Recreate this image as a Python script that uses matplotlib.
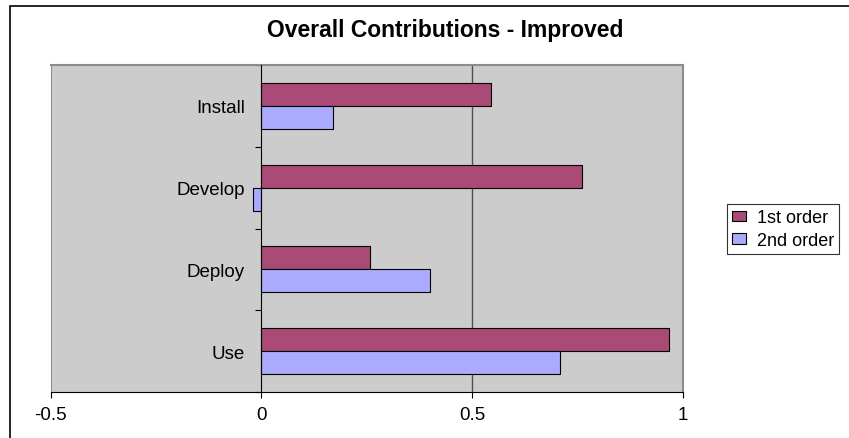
import numpy as np
import matplotlib
matplotlib.use("Agg")
import matplotlib.pyplot as plt
from matplotlib.patches import Rectangle

plt.rcParams["font.family"] = ["Liberation Sans", "DejaVu Sans"]

categories = ["Install", "Develop", "Deploy", "Use"]
first_order = [0.546, 0.76, 0.259, 0.968]
second_order = [0.170, -0.019, 0.400, 0.709]
xticks = [-0.5, 0, 0.5, 1]
xtick_labels = ["-0.5", "0", "0.5", "1"]

c_first = "#A94A77"
c_second = "#AAAAFF"
plot_bg = "#CCCCCC"
border_gray = "#8C8C8C"

W, H = 849, 439
fig = plt.figure(figsize=(W / 100, H / 100), dpi=100)
fig.patch.set_facecolor("white")

# chart frame (only left and top edges fall inside the image)
fig.patches.append(Rectangle((10 / W, -0.2), 1.5, 1.2 - 7 / H,
                             transform=fig.transFigure, fill=False,
                             edgecolor="black", lw=1.2, zorder=0))

left, right = 50.8 / W, 682.6 / W
top, bottom = 1 - 66 / H, 1 - 393 / H
ax = fig.add_axes([left, bottom, right - left, top - bottom])
ax.set_facecolor(plot_bg)

n = len(categories)
# categories listed top to bottom
ypos = np.arange(n)[::-1] + 0.5
bh = 0.282
ax.barh(ypos + bh / 2, first_order, height=bh, color=c_first,
        edgecolor="black", lw=0.8, label="1st order", zorder=3)
ax.barh(ypos - bh / 2, second_order, height=bh, color=c_second,
        edgecolor="black", lw=0.8, label="2nd order", zorder=3)

ax.set_xlim(-0.5, 1)
ax.set_ylim(0, n)

# gridline and plot-area border
ax.axvline(0.5, color="#505050", lw=1.0, zorder=1)
ax.axvline(-0.5, color=border_gray, lw=1.5, zorder=1)
for s in ["top", "right"]:
    ax.spines[s].set_color(border_gray)
    ax.spines[s].set_linewidth(1.5)
ax.spines["left"].set_position(("data", 0))
ax.spines["left"].set_color("black")
ax.spines["left"].set_zorder(4)
ax.spines["bottom"].set_color("black")

ax.set_xticks(xticks)
ax.set_xticklabels(xtick_labels, fontsize=13.5)
ax.tick_params(axis="x", direction="out", length=4, pad=6, color="black")

ax.set_yticks(np.arange(n + 1))
ax.set_yticklabels([])
ax.tick_params(axis="y", which="major", direction="out", length=4, color="black")
ax.set_yticks(ypos, minor=True)
ax.set_yticklabels(categories, minor=True, fontsize=13.5)
ax.tick_params(axis="y", which="minor", length=0, pad=12)

fig.text(445 / W, 1 - 31 / H, "Overall Contributions - Improved",
         ha="center", va="center", fontsize=16.5, fontweight="bold")

leg = fig.legend(loc="upper left", bbox_to_anchor=(727 / W, 1 - 205 / H),
                 fontsize=13, frameon=True, fancybox=False, edgecolor="black",
                 handlelength=0.75, handleheight=0.55, handletextpad=0.6,
                 borderpad=0.3, labelspacing=0.3, borderaxespad=0)
leg.get_frame().set_linewidth(0.8)

fig.savefig("out.png", dpi=100)
